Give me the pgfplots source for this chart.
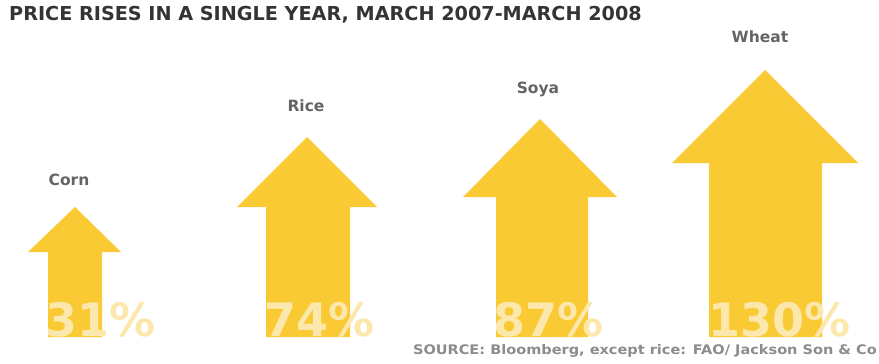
\documentclass[border=0pt]{standalone}
\usepackage{pgfplots}
\pgfplotsset{compat=1.18}
\usepackage{fontspec}
\setmainfont{DejaVu Sans}
\definecolor{arrowyellow}{RGB}{249,202,52}
\definecolor{pct}{RGB}{252,232,172}
\definecolor{titlegray}{RGB}{52,52,52}
\definecolor{labelgray}{RGB}{100,100,100}
\definecolor{srcgray}{RGB}{140,140,140}
\begin{document}
\begin{tikzpicture}
\begin{axis}[scale only axis, width=879pt, height=364pt,
  xmin=0, xmax=879, ymin=0, ymax=364, y dir=reverse,
  hide axis, clip=false]
\coordinate (bl) at (axis cs:0,364);
\coordinate (tr) at (axis cs:879,0);
% Corn 31%
\addplot[fill=arrowyellow, draw=none] coordinates {(48,337) (48,252) (28,252) (75,207) (121,252) (102,252) (102,337)} -- cycle;
% Rice 74%
\addplot[fill=arrowyellow, draw=none] coordinates {(266,337) (266,207) (237,207) (307,137) (377,207) (350,207) (350,337)} -- cycle;
% Soya 87%
\addplot[fill=arrowyellow, draw=none] coordinates {(496,337) (496,197) (463,197) (540,119) (617,197) (588,197) (588,337)} -- cycle;
% Wheat 130%
\addplot[fill=arrowyellow, draw=none] coordinates {(709,337) (709,163) (672,163) (765,70) (858,163) (822,163) (822,337)} -- cycle;

\node[anchor=base west, inner sep=0, text=titlegray, font=\bfseries\fontsize{19.2}{19.2}\selectfont] at (axis cs:9,21) {PRICE RISES IN A SINGLE YEAR, MARCH 2007-MARCH 2008};

\node[anchor=base, inner sep=0, text=labelgray, font=\bfseries\fontsize{15.5}{15.5}\selectfont] at (axis cs:69,185) {Corn};
\node[anchor=base, inner sep=0, text=labelgray, font=\bfseries\fontsize{15.5}{15.5}\selectfont] at (axis cs:306,111) {Rice};
\node[anchor=base, inner sep=0, text=labelgray, font=\bfseries\fontsize{15.5}{15.5}\selectfont] at (axis cs:538,93) {Soya};
\node[anchor=base, inner sep=0, text=labelgray, font=\bfseries\fontsize{15.5}{15.5}\selectfont] at (axis cs:760,43) {Wheat};

\node[anchor=base west, inner sep=0, text=pct, font=\bfseries\fontsize{46}{46}\selectfont] at (axis cs:45,336) {31\%};
\node[anchor=base west, inner sep=0, text=pct, font=\bfseries\fontsize{46}{46}\selectfont] at (axis cs:264,336) {74\%};
\node[anchor=base west, inner sep=0, text=pct, font=\bfseries\fontsize{46}{46}\selectfont] at (axis cs:493,336) {87\%};
\node[anchor=base west, inner sep=0, text=pct, font=\bfseries\fontsize{46}{46}\selectfont] at (axis cs:708,336) {130\%};

\node[anchor=base east, inner sep=0, text=srcgray, font=\bfseries\fontsize{13.2}{13.2}\selectfont] at (axis cs:877,354) {\scalebox{1.1}[1]{SOURCE: Bloomberg, except rice: FAO/ Jackson Son \& Co}};
\end{axis}
\pgfresetboundingbox
\useasboundingbox (bl) rectangle (tr);
\end{tikzpicture}
\end{document}
